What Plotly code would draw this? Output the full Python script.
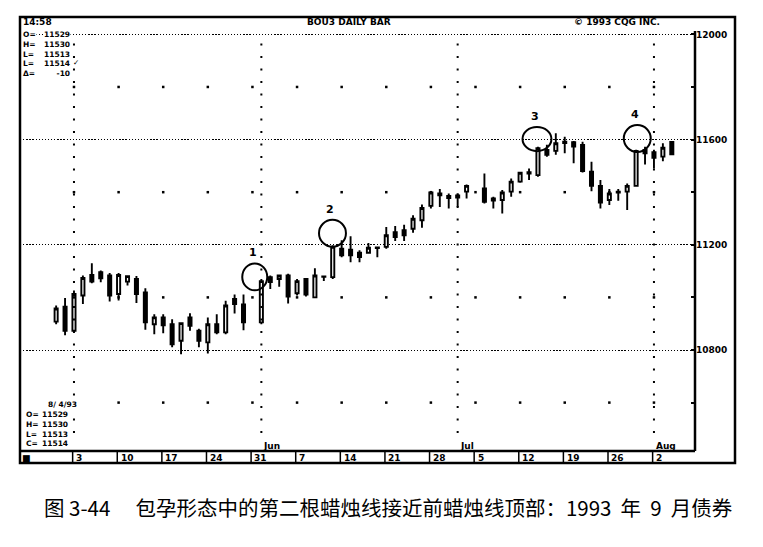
import numpy as np
import plotly.graph_objects as go

# Daily bars, Sept 1993 bond (axis units as printed on the chart)
dates = ["1993-04-29", "1993-04-30",
         "1993-05-03", "1993-05-04", "1993-05-05", "1993-05-06", "1993-05-07",
         "1993-05-10", "1993-05-11", "1993-05-12", "1993-05-13", "1993-05-14",
         "1993-05-17", "1993-05-18", "1993-05-19", "1993-05-20", "1993-05-21",
         "1993-05-24", "1993-05-25", "1993-05-26", "1993-05-27", "1993-05-28",
         "1993-06-01", "1993-06-02", "1993-06-03", "1993-06-04",
         "1993-06-07", "1993-06-08", "1993-06-09", "1993-06-10", "1993-06-11",
         "1993-06-14", "1993-06-15", "1993-06-16", "1993-06-17", "1993-06-18",
         "1993-06-21", "1993-06-22", "1993-06-23", "1993-06-24", "1993-06-25",
         "1993-06-28", "1993-06-29", "1993-06-30", "1993-07-01", "1993-07-02",
         "1993-07-06", "1993-07-07", "1993-07-08", "1993-07-09",
         "1993-07-12", "1993-07-13", "1993-07-14", "1993-07-15", "1993-07-16",
         "1993-07-19", "1993-07-20", "1993-07-21", "1993-07-22", "1993-07-23",
         "1993-07-26", "1993-07-27", "1993-07-28", "1993-07-29", "1993-07-30",
         "1993-08-02", "1993-08-03", "1993-08-04"]
opens = [10908, 10965,
         10873, 11007, 11085, 11096, 11083,
         11013, 11060, 11070, 11019, 10898,
         10924, 10898, 10835, 10924, 10873,
         10829, 10898, 10867, 10994, 10973,
         10905, 11077, 11070, 11083,
         11016, 11070, 11000, 11078, 11077,
         11185, 11181, 11170, 11170, 11188,
         11192, 11248, 11255, 11261, 11293,
         11348, 11395, 11386, 11388, 11402,
         11414, 11376, 11370, 11402,
         11440, 11476, 11465, 11561, 11557,
         11592, 11590, 11580, 11478, 11424,
         11370, 11399, 11402, 11424, 11561,
         11552, 11535, 11591]
highs = [10969, 10998,
         11026, 11083, 11130, 11102, 11093,
         11093, 11083, 11081, 11035, 10936,
         10936, 10917, 10905, 10940, 10881,
         10924, 10936, 10987, 11011, 11011,
         11070, 11083, 11085, 11090,
         11070, 11074, 11111, 11080, 11198,
         11217, 11232, 11179, 11207, 11190,
         11268, 11271, 11276, 11312, 11353,
         11404, 11412, 11395, 11395, 11429,
         11471, 11383, 11408, 11452,
         11478, 11490, 11573, 11580, 11624,
         11611, 11595, 11592, 11516, 11446,
         11412, 11412, 11433, 11561, 11573,
         11561, 11586, 11594]
lows = [10898, 10856,
        10867, 10975, 11054, 11058, 10984,
        10988, 11045, 10979, 10877, 10860,
        10864, 10810, 10784, 10873, 10810,
        10787, 10860, 10860, 10939, 10875,
        10898, 11032, 11040, 10977,
        11007, 11003, 11000, 11062, 11070,
        11153, 11134, 11134, 11166, 11153,
        11185, 11214, 11214, 11246, 11265,
        11338, 11344, 11338, 11344, 11376,
        11357, 11338, 11319, 11383,
        11436, 11446, 11459, 11535, 11542,
        11548, 11510, 11475, 11404, 11338,
        11351, 11367, 11332, 11421, 11505,
        11490, 11518, 11541]
closes = [10958, 10873,
          11013, 11074, 11060, 11073, 11007,
          11085, 11081, 11013, 10905, 10924,
          10894, 10822, 10902, 10892, 10835,
          10898, 10867, 10969, 10975, 10905,
          11062, 11058, 11083, 11003,
          11062, 11011, 11083, 11080, 11192,
          11160, 11160, 11153, 11189, 11190,
          11236, 11229, 11236, 11299, 11340,
          11399, 11388, 11378, 11380, 11424,
          11363, 11368, 11399, 11440,
          11474, 11471, 11567, 11542, 11586,
          11587, 11573, 11480, 11424, 11361,
          11395, 11402, 11424, 11557, 11548,
          11531, 11569, 11544]

week_ticks = ["1993-05-03", "1993-05-10", "1993-05-17", "1993-05-24", "1993-05-31",
              "1993-06-07", "1993-06-14", "1993-06-21", "1993-06-28", "1993-07-05",
              "1993-07-12", "1993-07-19", "1993-07-26", "1993-08-02"]
week_labels = ["3", "10", "17", "24", "31", "7", "14", "21", "28", "5", "12", "19", "26", "2"]
month_starts = ["1993-05-03", "1993-06-01", "1993-07-01", "1993-08-02"]
month_labels = ["", "Jun", "Jul", "Aug"]
price_ticks = [10800, 11200, 11600, 12000]
dot_levels = [10600, 11000, 11400, 11800]

top_keys = ["O=", "H=", "L=", "L=", "\u0394="]
top_vals = ["11529", "11530", "11513", "11514", "-10"]
bottom_date = "8/ 4/93"
bottom_keys = ["O=", "H=", "L=", "C="]
bottom_vals = ["11529", "11530", "11513", "11514"]

# harami call-outs: label, centre slot, centre price, half width (slots), half height (price)
callouts = [("1", 22.26, 11078, 1.40, 51),
            ("2", 30.97, 11244, 1.51, 51),
            ("3", 53.89, 11602, 1.62, 46),
            ("4", 65.13, 11604, 1.51, 51)]

caption = ("图\u00a03-44\u3000\u00a0包孕形态中的第二根蜡烛线接近前蜡烛线顶部："
           "1993\u00a0\u00a0年\u00a0\u00a09\u00a0\u00a0月债券")


def slot(d):
    # trading-day slot (weekdays only, holidays leave a gap)
    return int(np.busday_count("1993-04-29", d))


# plot area in screen pixels; the page adds an 8px body margin
OFF = 8
L, R, T, B = 20, 695, 17, 451
W, H = 763, 547


def px(x):
    return (x - L) / (R - L)


def py(y):
    return (B - y) / (B - T)


xs = [slot(d) for d in dates]
bold = dict(family="DejaVu Sans", size=9, color="black", weight="bold")
small = dict(family="DejaVu Sans", size=7.5, color="black", weight="bold")

fig = go.Figure()

# weekly dot grid
gx, gy = [], []
for w in week_ticks:
    for lv in dot_levels:
        gx.append(slot(w))
        gy.append(lv)
fig.add_trace(go.Scatter(x=gx, y=gy, mode="markers", hoverinfo="skip", showlegend=False,
                         marker=dict(symbol="square", size=2.5, color="black")))

fig.add_trace(go.Candlestick(
    x=xs, open=opens, high=highs, low=lows, close=closes,
    increasing=dict(line=dict(color="black", width=1.9), fillcolor="white"),
    decreasing=dict(line=dict(color="black", width=1.9), fillcolor="black"),
    whiskerwidth=0, showlegend=False))

shapes = []
# frame
shapes.append(dict(type="rect", xref="paper", yref="paper", x0=0, x1=px(735), y0=py(463), y1=1,
                   line=dict(color="black", width=2.5)))
shapes.append(dict(type="line", xref="paper", yref="paper", x0=1, x1=1, y0=0, y1=py(31),
                   line=dict(color="black", width=2.5)))
shapes.append(dict(type="line", xref="paper", yref="paper", x0=0, x1=1, y0=0, y1=0,
                   line=dict(color="black", width=2.5)))
# date row separators
for w in week_ticks:
    shapes.append(dict(type="line", xref="x", yref="paper", x0=slot(w) - 0.15, x1=slot(w) - 0.15,
                       y0=py(463), y1=0, line=dict(color="black", width=1.5)))
# month lines
for m in month_starts:
    shapes.append(dict(type="line", xref="x", yref="paper", x0=slot(m), x1=slot(m),
                       y0=py(433), y1=py(40), line=dict(color="black", width=2, dash="2px,10.5px")))
# call-out circles
for lab, cx, cy, hw, hh in callouts:
    shapes.append(dict(type="circle", xref="x", yref="y", x0=cx - hw, x1=cx + hw,
                       y0=cy - hh, y1=cy + hh, line=dict(color="black", width=2)))

ann = []
ann.append(dict(text="14:58", x=px(22), y=py(22), xanchor="left", font=bold))
ann.append(dict(text="BOU3 DAILY BAR", x=px(349), y=py(22), xanchor="center", font=bold))
ann.append(dict(text="\u00a9 1993 CQG INC.", x=px(661), y=py(22), xanchor="right", font=bold))
# top-left readout
ann.append(dict(text="<br>".join(top_keys), x=px(22), y=py(28.5), xanchor="left", yanchor="top",
                align="left", bgcolor="white", font=small))
ann.append(dict(text="<br>".join(top_vals), x=px(71), y=py(28.5), xanchor="right", yanchor="top",
                align="right", bgcolor="white", font=small))
ann.append(dict(text="\u2713", x=px(71.5), y=py(62), xanchor="left", font=small))
# bottom-left readout
ann.append(dict(text=bottom_date, x=px(47), y=py(404), xanchor="left", bgcolor="white", font=small))
ann.append(dict(text="<br>".join(bottom_keys), x=px(25), y=py(408.5), xanchor="left", yanchor="top",
                align="left", bgcolor="white", font=small))
ann.append(dict(text="<br>".join(bottom_vals), x=px(69), y=py(408.5), xanchor="right", yanchor="top",
                align="right", bgcolor="white", font=small))
# date row
ann.append(dict(text="\u25a0", x=px(21), y=py(457.5), xanchor="left", font=bold))
for w, lab in zip(week_ticks, week_labels):
    ann.append(dict(text=lab, x=slot(w), xref="x", y=py(457.5), xanchor="left", xshift=1, font=bold))
for m, lab in zip(month_starts, month_labels):
    if lab:
        ann.append(dict(text=lab, x=slot(m), xref="x", y=py(446), xanchor="left", xshift=1, font=bold))
for lab, cx, cy, hw, hh in callouts:
    ann.append(dict(text=lab, x=cx, xref="x", y=cy + hh, yref="y", yanchor="bottom",
                    xshift=-2, yshift=3, font=dict(bold, size=11)))

for a in ann:
    a.setdefault("xref", "paper")
    a.setdefault("yref", "paper")
    a.setdefault("yanchor", "middle")
    a["showarrow"] = False
    a["borderpad"] = 0

ann.append(dict(text=caption, xref="paper", yref="paper", x=px(388), y=py(507),
                xanchor="center", yanchor="middle", showarrow=False,
                font=dict(family="Noto Sans CJK SC", size=20.5, color="black")))

fig.update_layout(
    width=W - OFF, height=H - OFF,
    margin=dict(l=L - OFF, r=W - R, t=T - OFF, b=H - B),
    paper_bgcolor="white", plot_bgcolor="white",
    boxgap=0.5,
    showlegend=False,
    shapes=shapes, annotations=ann,
    xaxis=dict(range=[-4.05, 71.6], showgrid=False, zeroline=False, showticklabels=False,
               rangeslider=dict(visible=False), fixedrange=True),
    yaxis=dict(range=[10416, 12066], side="right", tickmode="array", tickvals=price_ticks,
               ticktext=[str(p) for p in price_ticks], ticks="", showgrid=True,
               gridcolor="black", gridwidth=1.3, griddash="1.3px,1.8px", zeroline=False,
               tickfont=bold,
               minor=dict(tickmode="linear", tick0=0, dtick=200, ticks="inside", ticklen=4,
                          tickwidth=1.5, tickcolor="black", showgrid=False),
               fixedrange=True),
)

fig.write_html("out.html")
